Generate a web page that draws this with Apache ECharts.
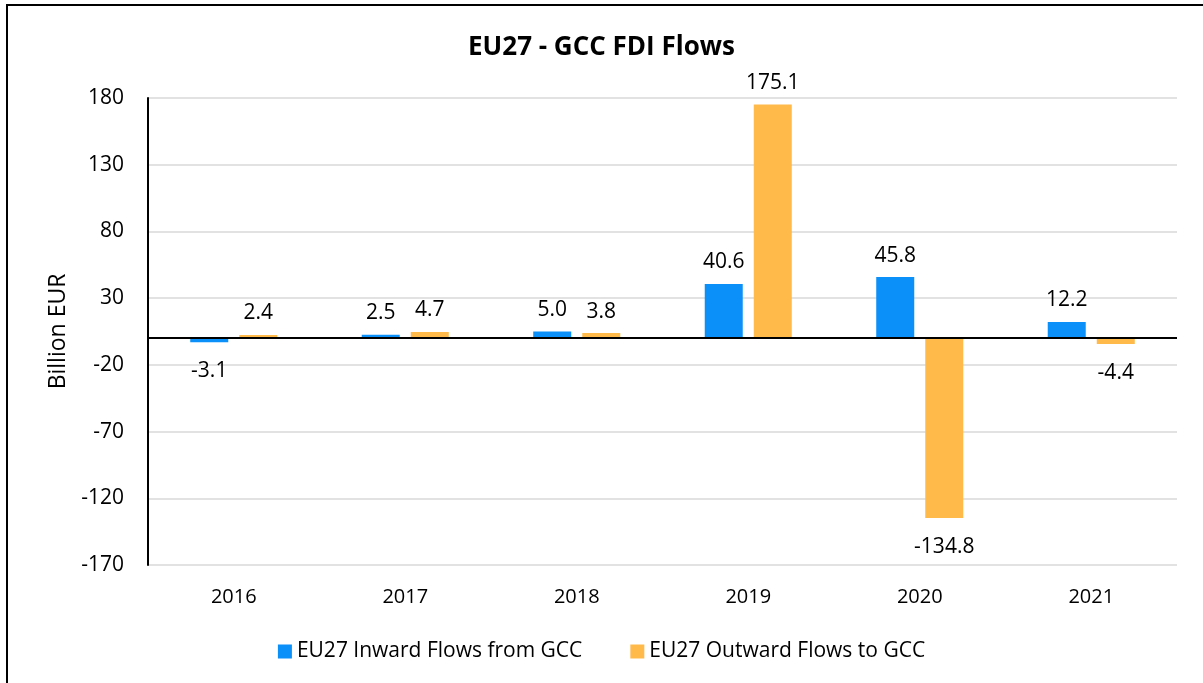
<!DOCTYPE html>
<html>
<head>
<meta charset="utf-8">
<script src="https://cdn.jsdelivr.net/npm/echarts@6/dist/echarts.min.js"></script>
<style>
  html, body { margin: 0; padding: 0; background: #fff; }
  #frame { position: absolute; left: 6px; top: 4px; width: 1300px; height: 800px;
           border-left: 2px solid #000; border-top: 2px solid #000; }
  #main { position: absolute; left: 0; top: 0; width: 1203px; height: 683px; }
</style>
</head>
<body>
<div id="frame"></div>
<div id="main"></div>
<script>
var years = ['2016', '2017', '2018', '2019', '2020', '2021'];
var inward = [-3.1, 2.5, 5.0, 40.6, 45.8, 12.2];
var outward = [2.4, 4.7, 3.8, 175.1, -134.8, -4.4];
var names = ['EU27 Inward Flows from GCC', 'EU27 Outward Flows to GCC'];

var font = 'Open Sans';

function withLabels(values) {
    return values.map(function (v) {
        return {
            value: v,
            label: v < 0 ? { position: 'bottom', distance: 18 } : { position: 'top', distance: 11 }
        };
    });
}

var myChart = echarts.init(document.getElementById('main'));

option = {
    animation: false,
    title: {
        text: 'EU27 - GCC FDI Flows',
        left: 'center',
        top: 30,
        textStyle: { fontFamily: font, fontSize: 26, fontWeight: 'bold', color: '#000' }
    },
    legend: {
        bottom: 16,
        left: 'center',
        itemWidth: 14,
        itemHeight: 14,
        itemGap: 48,
        icon: 'rect',
        textStyle: { fontFamily: font, fontSize: 21, color: '#000' },
        data: names
    },
    grid: { left: 148, right: 26, top: 98, bottom: 118 },
    xAxis: {
        type: 'category',
        data: years,
        axisLine: { show: false, onZero: false },
        axisTick: { show: false },
        axisLabel: { fontFamily: font, fontSize: 20, color: '#000', margin: 22 }
    },
    yAxis: {
        type: 'value',
        min: -170,
        max: 180,
        interval: 50,
        name: 'Billion EUR',
        nameLocation: 'middle',
        nameGap: 76,
        nameTextStyle: { fontFamily: font, fontSize: 23, color: '#000' },
        axisLine: { show: true, lineStyle: { color: '#000', width: 2 } },
        axisTick: { show: false },
        axisLabel: { fontFamily: font, fontSize: 21, color: '#000', margin: 24 },
        splitLine: { lineStyle: { color: '#d9d9d9', width: 1.5 } }
    },
    series: [
        {
            name: names[0],
            type: 'bar',
            barWidth: 38,
            barGap: '29%',
            itemStyle: { color: '#0B8FF8' },
            label: {
                show: true,
                fontFamily: font,
                fontSize: 21,
                color: '#000',
                formatter: function (p) { return p.value.toFixed(1); }
            },
            data: withLabels(inward),
            markLine: {
                silent: true,
                symbol: 'none',
                label: { show: false },
                lineStyle: { color: '#000', width: 2, type: 'solid' },
                data: [{ yAxis: 0 }]
            }
        },
        {
            name: names[1],
            type: 'bar',
            barWidth: 38,
            barGap: '29%',
            itemStyle: { color: '#FFBA4A' },
            label: {
                show: true,
                fontFamily: font,
                fontSize: 21,
                color: '#000',
                formatter: function (p) { return p.value.toFixed(1); }
            },
            data: withLabels(outward)
        }
    ]
};

myChart.setOption(option);
</script>
</body>
</html>
